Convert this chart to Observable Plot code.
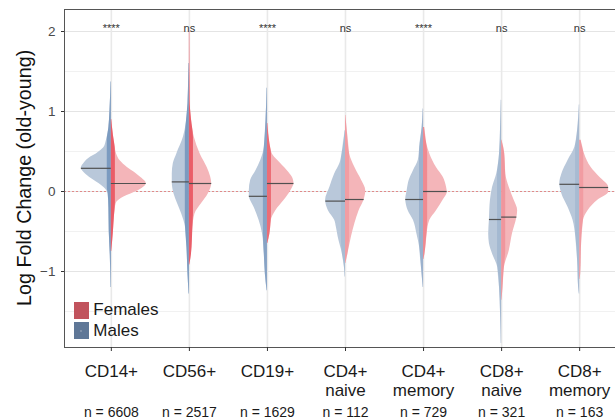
<!DOCTYPE html>
<html>
<head>
<meta charset="utf-8">
<script src="https://cdn.jsdelivr.net/npm/d3@7"></script>
<script src="https://cdn.jsdelivr.net/npm/@observablehq/plot@0.6"></script>
<style>
  html, body { margin: 0; padding: 0; background: #fff; overflow: hidden; }
  #wrap { position: relative; width: 615px; height: 419px; overflow: hidden;
          font-family: "Liberation Sans", Arial, sans-serif; }
  #ytitle { position: absolute; left: -125px; top: 168.2px; width: 300px; height: 19.7px;
            line-height: 19.7px; font-size: 19.7px; text-align: center; color: #111;
            transform: rotate(-90deg); white-space: nowrap; }
  #legend { position: absolute; left: 74px; top: 300px; }
  .item { display: flex; align-items: center; height: 20.4px; font-size: 17px; color: #1a1a1a; }
  .key { width: 14.5px; height: 17px; margin-right: 4.8px; position: relative; flex: none; }
  .key .dot { position: absolute; left: 6px; top: 7.5px; width: 2.4px; height: 2.4px;
              border-radius: 50%; background: #8a9ab0; }
</style>
</head>
<body>
<div id="wrap"><div id="ytitle">Log Fold Change (old-young)</div><div id="legend"></div></div>
<script>
// Cell types (tick labels) and cells per type
const categories = ["CD14+", "CD56+", "CD19+", "CD4+\nnaive", "CD4+\nmemory", "CD8+\nnaive", "CD8+\nmemory"];
const nCells = [6608, 2517, 1629, 112, 729, 321, 163];
const significance = ["****", "ns", "****", "ns", "****", "ns", "ns"];

// Medians of the log fold change (old vs young)
const maleMedian   = [0.29, 0.12, -0.06, -0.12, -0.10, -0.35, 0.09];
const femaleMedian = [0.10, 0.10, 0.10, -0.10, 0.00, -0.32, 0.05];

// Kernel density profiles: [log fold change, relative density]
const maleDensity = [
  [[1.37,0.01],[1.0,0.04],[0.8,0.07],[0.64,0.14],[0.55,0.21],[0.51,0.31],[0.47,0.43],[0.43,0.59],[0.36,0.77],[0.29,0.86],[0.22,0.74],[0.14,0.50],[0.05,0.21],[-0.03,0.09],[-0.2,0.07],[-0.5,0.06],[-0.8,0.03],[-1.2,0.01]],
  [[1.6,0.01],[1.43,0.02],[1.1,0.04],[0.85,0.09],[0.68,0.17],[0.47,0.36],[0.35,0.46],[0.22,0.49],[0.11,0.49],[-0.03,0.44],[-0.15,0.34],[-0.28,0.22],[-0.45,0.11],[-0.7,0.07],[-1.03,0.04],[-1.28,0.01]],
  [[1.29,0.01],[0.9,0.04],[0.55,0.09],[0.39,0.19],[0.26,0.33],[0.14,0.48],[0.01,0.52],[-0.06,0.52],[-0.2,0.38],[-0.36,0.24],[-0.53,0.14],[-0.78,0.09],[-1.03,0.06],[-1.24,0.01]],
  [[0.76,0.01],[0.47,0.10],[0.35,0.16],[0.22,0.31],[0.05,0.45],[-0.11,0.57],[-0.24,0.49],[-0.36,0.31],[-0.45,0.26],[-0.57,0.21],[-0.78,0.09],[-0.95,0.03],[-1.07,0.01]],
  [[1.03,0.01],[0.8,0.04],[0.55,0.11],[0.39,0.15],[0.26,0.29],[0.14,0.41],[0.01,0.47],[-0.10,0.51],[-0.24,0.44],[-0.36,0.29],[-0.53,0.19],[-0.70,0.11],[-0.95,0.06],[-1.2,0.01]],
  [[1.14,0.01],[0.8,0.03],[0.47,0.06],[0.22,0.14],[0.05,0.26],[-0.11,0.32],[-0.36,0.35],[-0.53,0.37],[-0.65,0.35],[-0.78,0.26],[-0.95,0.11],[-1.2,0.06],[-1.53,0.03],[-1.9,0.01]],
  [[1.08,0.01],[0.76,0.06],[0.55,0.14],[0.39,0.33],[0.22,0.51],[0.10,0.57],[-0.03,0.51],[-0.2,0.33],[-0.36,0.19],[-0.57,0.11],[-0.86,0.06],[-1.2,0.03],[-1.28,0.01]]
];
const femaleDensity = [
  [[0.9,0.01],[0.7,0.06],[0.55,0.11],[0.47,0.15],[0.38,0.26],[0.30,0.46],[0.24,0.66],[0.18,0.83],[0.10,1.0],[0.04,0.89],[0.01,0.77],[-0.07,0.36],[-0.15,0.14],[-0.3,0.09],[-0.5,0.06],[-0.75,0.01]],
  [[2.0,0.01],[1.14,0.02],[0.9,0.06],[0.68,0.14],[0.47,0.31],[0.30,0.51],[0.18,0.61],[0.10,0.64],[-0.03,0.54],[-0.15,0.35],[-0.28,0.16],[-0.45,0.10],[-0.78,0.06],[-0.92,0.01]],
  [[0.85,0.01],[0.6,0.07],[0.47,0.14],[0.39,0.29],[0.26,0.57],[0.18,0.71],[0.10,0.76],[0.01,0.67],[-0.11,0.48],[-0.24,0.24],[-0.36,0.11],[-0.53,0.07],[-0.65,0.01]],
  [[0.95,0.01],[0.72,0.06],[0.47,0.12],[0.30,0.27],[0.14,0.46],[0.01,0.58],[-0.11,0.53],[-0.24,0.39],[-0.40,0.27],[-0.57,0.17],[-0.78,0.07],[-0.90,0.01]],
  [[0.8,0.03],[0.6,0.09],[0.47,0.18],[0.30,0.37],[0.18,0.56],[0.05,0.66],[-0.01,0.68],[-0.11,0.56],[-0.24,0.37],[-0.36,0.18],[-0.53,0.10],[-0.78,0.04],[-0.85,0.01]],
  [[0.64,0.01],[0.47,0.09],[0.22,0.12],[0.05,0.22],[-0.11,0.36],[-0.24,0.46],[-0.34,0.43],[-0.53,0.31],[-0.74,0.22],[-0.95,0.08],[-1.2,0.04],[-1.36,0.01]],
  [[0.64,0.04],[0.47,0.14],[0.30,0.33],[0.18,0.57],[0.05,0.83],[-0.01,0.83],[-0.11,0.52],[-0.24,0.24],[-0.36,0.11],[-0.61,0.06],[-1.03,0.03],[-1.1,0.01]]
];

const yMajor = [-1, 0, 1, 2];
const yMinor = [-1.5, -0.5, 0.5, 1.5];
const sigY = 2;

// Drawing constants
const W = 0.447;      // half-violin width (x units) for a relative density of 1
const S = 0.052;      // half-width of the jittered point band
const maleFill = "#b9c8da", femaleFill = "#f4b5b9";
const malePts = "#7596bd", femalePts = "#e9535f";

const idx = d3.range(categories.length);

function toRows(profiles) {
  return profiles.flatMap((p, i) =>
    p.map(([v, d]) => ({i, v, d})).sort((a, b) => a.v - b.v));
}
function widthAt(profile, y) {
  const p = [...profile].sort((a, b) => a[0] - b[0]);
  for (let k = 0; k < p.length - 1; k++) {
    const [v0, d0] = p[k], [v1, d1] = p[k + 1];
    if (y >= v0 && y <= v1) return d0 + (d1 - d0) * (y - v0) / (v1 - v0);
  }
  return 0;
}
const ptAlpha = n => Math.min(0.9, 0.2 + n / 3000);

const maleRows = toRows(maleDensity);
const femaleRows = toRows(femaleDensity);
const maleMed = idx.map(i => ({i, v: maleMedian[i], w: widthAt(maleDensity[i], maleMedian[i])}));
const femaleMed = idx.map(i => ({i, v: femaleMedian[i], w: widthAt(femaleDensity[i], femaleMedian[i])}));

const chart = Plot.plot({
  width: 626,
  height: 419,
  marginLeft: 64,
  marginRight: 0,
  marginTop: 9,
  marginBottom: 72,
  style: {fontFamily: "'Liberation Sans', Arial, sans-serif", maxWidth: "none", background: "transparent"},
  x: {domain: [-0.6, 6.6], axis: null},
  y: {domain: [-1.95, 2.275], axis: null},
  marks: [
    Plot.gridY(yMinor, {stroke: "#f1f1f1", strokeOpacity: 1}),
    Plot.gridY(yMajor, {stroke: "#e4e4e4", strokeOpacity: 1}),
    Plot.gridX(idx, {stroke: "#e9e9e9", strokeOpacity: 1, strokeWidth: 1.6}),
    Plot.ruleY([0], {stroke: "#e08a8a", strokeDasharray: "2,2"}),

    // half violins
    Plot.areaX(maleRows, {y: "v", x1: r => r.i - r.d * W, x2: "i", z: "i", fill: maleFill, curve: "monotone-y"}),
    Plot.areaX(femaleRows, {y: "v", x1: "i", x2: r => r.i + r.d * W, z: "i", fill: femaleFill, curve: "monotone-y"}),

    // dense band of individual cells near the centre line
    Plot.areaX(maleRows, {y: "v", x1: r => r.i - Math.min(r.d * W, S), x2: "i", z: "i",
      fill: malePts, fillOpacity: r => ptAlpha(nCells[r.i]), curve: "monotone-y"}),
    Plot.areaX(femaleRows, {y: "v", x1: "i", x2: r => r.i + Math.min(r.d * W, S), z: "i",
      fill: femalePts, fillOpacity: r => ptAlpha(nCells[r.i]), curve: "monotone-y"}),

    // medians
    Plot.ruleY(maleMed, {y: "v", x1: r => r.i - r.w * W, x2: "i", stroke: "#505050", strokeWidth: 1.2}),
    Plot.ruleY(femaleMed, {y: "v", x1: "i", x2: r => r.i + r.w * W, stroke: "#505050", strokeWidth: 1.2}),

    Plot.frame({stroke: "#555"}),

    // significance of the sex difference
    Plot.text(idx, {x: d => d, y: () => sigY, text: i => significance[i], fontSize: 11,
      lineAnchor: "bottom", fill: "#333"}),

    Plot.axisY({ticks: yMajor, tickSize: 3, tickPadding: 6, fontSize: 13.5, label: null,
      tickFormat: d3.format("d"), color: "#4a4a4a", stroke: "#333"}),
    Plot.axisX({ticks: idx, tickSize: 4, tickPadding: 12, fontSize: 17, lineHeight: 1.12,
      tickFormat: i => categories[i], label: null, fill: "#1a1a1a", stroke: "#333"}),
    Plot.axisX({ticks: idx, tickSize: 0, tickPadding: 60, fontSize: 14,
      tickFormat: i => `n = ${nCells[i]}`, label: null, fill: "#1a1a1a"})
  ]
});

const wrap = document.getElementById("wrap");
wrap.insertBefore(chart, wrap.firstChild);

// legend
const legend = document.getElementById("legend");
[["Females", "#c1535d", false], ["Males", "#5f7797", true]].forEach(([label, color, dot]) => {
  const item = document.createElement("div");
  item.className = "item";
  const key = document.createElement("div");
  key.className = "key";
  key.style.background = color;
  if (dot) { const d = document.createElement("div"); d.className = "dot"; key.appendChild(d); }
  const txt = document.createElement("span");
  txt.textContent = label;
  item.appendChild(key);
  item.appendChild(txt);
  legend.appendChild(item);
});
</script>
</body>
</html>
